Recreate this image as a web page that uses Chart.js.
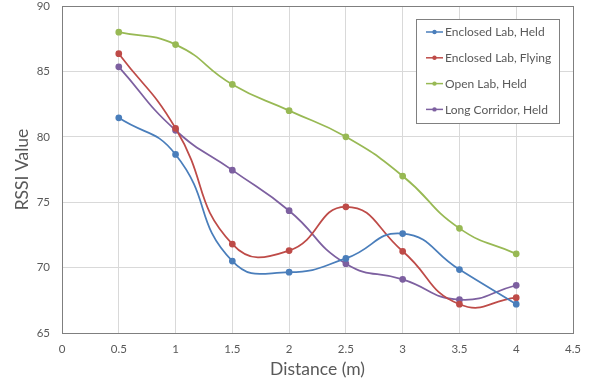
<!DOCTYPE html>
<html>
<head>
<meta charset="utf-8">
<script src="https://cdn.jsdelivr.net/npm/chart.js@4"></script>
<style>
  html, body { margin: 0; padding: 0; background: #fff; }
  #wrap { width: 598px; height: 390px; }
</style>
</head>
<body>
<div id="wrap"><canvas id="myChart" width="598" height="390"></canvas></div>
<script>
// distances (m)
const distances = [0.5, 1, 1.5, 2, 2.5, 3, 3.5, 4];

// RSSI readings per setup
const enclosedHeld = [81.45, 78.65, 70.5, 69.65, 70.7, 72.6, 69.85, 67.2];
const enclosedFlying = [86.35, 80.65, 71.8, 71.3, 74.65, 71.25, 67.2, 67.7];
const openHeld = [88.0, 87.05, 84.0, 82.0, 80.0, 77.0, 73.0, 71.05];
const corridorHeld = [85.35, 80.5, 77.45, 74.35, 70.3, 69.1, 67.55, 68.65];

const seriesNames = ['Enclosed Lab, Held', 'Enclosed Lab, Flying', 'Open Lab, Held', 'Long Corridor, Held'];
const seriesColors = ['#4a7ebb', '#be4b48', '#98b954', '#7d60a0'];

const FONT = 'Lato, "Open Sans", sans-serif';
const TEXT = '#595959';

function toPoints(vals) {
    return vals.map((v, i) => ({x: distances[i], y: v}));
}

const allSeries = [enclosedHeld, enclosedFlying, openHeld, corridorHeld];

// border around plot area + legend box inside it
const frameAndLegend = {
    id: 'frameAndLegend',
    afterDraw(chart) {
        const c = chart.ctx;
        const a = chart.chartArea;
        c.save();
        c.strokeStyle = '#7f7f7f';
        c.lineWidth = 1;
        c.strokeRect(Math.round(a.left) + 0.5, Math.round(a.top) + 0.5,
            Math.round(a.right - a.left), Math.round(a.bottom - a.top));

        // legend box
        const bx = 416, by = 19, bw = 143, bh = 104;
        c.fillStyle = '#fff';
        c.fillRect(bx, by, bw, bh);
        c.strokeStyle = '#808080';
        c.strokeRect(bx + 0.5, by + 0.5, bw, bh);
        c.font = '12px ' + FONT;
        c.textBaseline = 'middle';
        chart.data.datasets.forEach((ds, i) => {
            const y = 32 + i * 25.8;
            c.strokeStyle = ds.borderColor;
            c.lineWidth = 1.5;
            c.beginPath();
            c.moveTo(426, y);
            c.lineTo(443, y);
            c.stroke();
            c.fillStyle = ds.borderColor;
            c.beginPath();
            c.arc(434.5, y, 2.2, 0, Math.PI * 2);
            c.fill();
            c.fillStyle = TEXT;
            c.fillText(ds.label, 445, y + 0.5);
        });
        c.restore();
    }
};

const ctx = document.getElementById('myChart').getContext('2d');
new Chart(ctx, {
    type: 'line',
    data: {
        datasets: allSeries.map((vals, i) => ({
            label: seriesNames[i],
            data: toPoints(vals),
            borderColor: seriesColors[i],
            backgroundColor: seriesColors[i],
            borderWidth: 1.75,
            pointRadius: 2.5,
            pointHoverRadius: 3,
            tension: 0.5,
            fill: false
        }))
    },
    options: {
        responsive: false,
        animation: false,
        layout: { autoPadding: false, padding: { top: 6, right: 25, left: 0, bottom: 0 } },
        scales: {
            x: {
                type: 'linear',
                min: 0,
                max: 4.5,
                ticks: {
                    stepSize: 0.5, color: TEXT, font: { family: FONT, size: 11.5 }, padding: 9,
                    callback: v => String(v)
                },
                grid: { color: '#d9d9d9', drawTicks: false },
                border: { display: false },
                title: { display: true, text: 'Distance (m)', color: TEXT, font: { family: FONT, size: 17.5 }, padding: { top: 0, bottom: 10 } },
                afterFit(s) { s.height = 57; s.paddingLeft = 0; s.paddingRight = 0; }
            },
            y: {
                min: 65,
                max: 90,
                ticks: { stepSize: 5, color: TEXT, font: { family: FONT, size: 11.5 }, padding: 12 },
                grid: { color: '#d9d9d9', drawTicks: false },
                border: { display: false },
                title: { display: true, text: 'RSSI Value', color: TEXT, font: { family: FONT, size: 17.5 }, padding: { top: 12, bottom: 0 } },
                afterFit(s) { s.width = 62; s.paddingTop = 0; s.paddingBottom = 0; }
            }
        },
        plugins: {
            legend: { display: false },
            tooltip: { enabled: false }
        }
    },
    plugins: [frameAndLegend]
});
</script>
</body>
</html>
